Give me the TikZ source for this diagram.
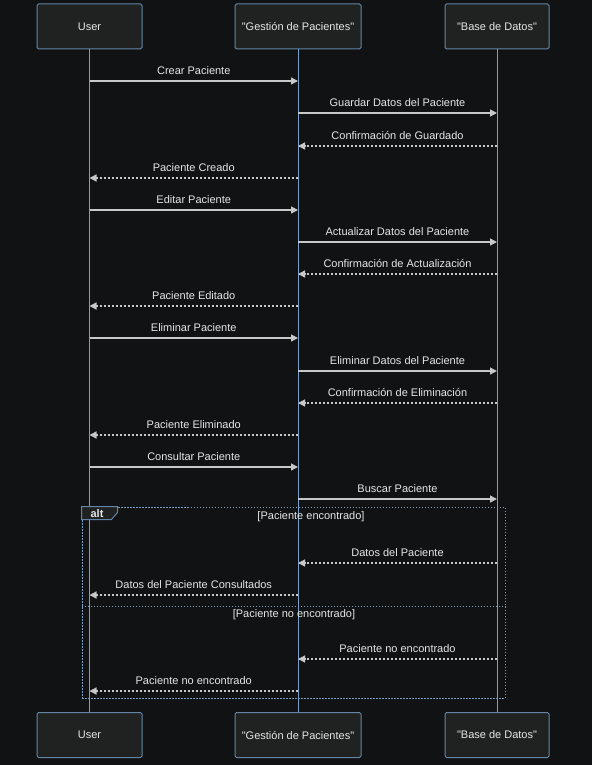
\documentclass[tikz,border=0pt]{standalone}
\usepackage{fontspec}
\setmainfont{Liberation Sans}[Ligatures=TeXOff]
\usetikzlibrary{arrows.meta}
\usetikzlibrary{positioning}
\definecolor{bgc}{HTML}{111214}
\definecolor{boxfill}{HTML}{202222}
\definecolor{boxline}{HTML}{6386A8}
\definecolor{lifec}{HTML}{7BA0C8}
\definecolor{msgc}{HTML}{C8C8C8}
\definecolor{txtc}{HTML}{E6E6E6}
\definecolor{framec}{HTML}{7D9EC2}
\tikzset{actor node/.style={rectangle,draw=boxline,fill=boxfill,rounded corners=1.5pt,line width=1pt,minimum height=45pt,text=txtc,font=\fontsize{11}{13}\selectfont},
lifeline/.style={draw=lifec,line width=1pt},
call/.style={draw=msgc,line width=1.3pt,-{Triangle[length=7pt,width=7pt]}},
reply/.style={call,dash pattern=on 2pt off 2pt},
msglabel/.style={above=5pt,inner sep=1pt,text=txtc,font=\fontsize{11}{13}\selectfont},
altframe/.style={draw=framec,line width=1pt,dash pattern=on 1.5pt off 1.5pt,inner sep=0pt}}

\begin{document}
\begin{tikzpicture}[x=1pt,y=-1pt]
    \fill[bgc] (0,0) rectangle (592,765);
    \useasboundingbox (0,0) rectangle (592,765);

    \node[actor node,minimum width=105pt] (user) at (89.5,26.5) {User};
    \node[actor node,minimum width=126pt] (gp) at (298,26.5) {"Gestión de Pacientes"};
    \node[actor node,minimum width=104pt] (bd) at (497,26.5) {"Base de Datos"};
    \node[actor node,minimum width=105pt] (userB) at (89.5,735) {User};
    \node[actor node,minimum width=126pt] (gpB) at (298,735) {"Gestión de Pacientes"};
    \node[actor node,minimum width=104pt] (bdB) at (497,735) {"Base de Datos"};

    \path[lifeline] (user) edge (userB) (gp) edge (gpB) (bd) edge (bdB);

    \foreach \y/\from/\to/\txt in {81/user/gp/Crear Paciente, 113/gp/bd/Guardar Datos del Paciente,
        210/user/gp/Editar Paciente, 242/gp/bd/Actualizar Datos del Paciente,
        338/user/gp/Eliminar Paciente, 371/gp/bd/Eliminar Datos del Paciente,
        467/user/gp/Consultar Paciente, 499/gp/bd/Buscar Paciente}
        \draw[call] (\from |- 0,\y) -- node[msglabel] {\txt} (\to |- 0,\y);

    \foreach \y/\from/\to/\txt in {146/bd/gp/Confirmación de Guardado, 178/gp/user/Paciente Creado,
        274/bd/gp/Confirmación de Actualización, 306/gp/user/Paciente Editado,
        403/bd/gp/Confirmación de Eliminación, 435/gp/user/Paciente Eliminado,
        563/bd/gp/Datos del Paciente, 595/gp/user/Datos del Paciente Consultados,
        659/bd/gp/Paciente no encontrado, 691/gp/user/Paciente no encontrado}
        \draw[reply] (\from |- 0,\y) -- node[msglabel] {\txt} (\to |- 0,\y);

    % alt block
    \node[altframe,minimum width=423pt,minimum height=191pt] (alt) at (293.5,602.5) {};
    \draw[altframe] (alt.west |- 0,606) -- (alt.east |- 0,606);
    \draw[draw=boxline,fill=boxfill,line width=1pt] (alt.north west) -- ++(36,0) -- ++(0,6) -- ++(-6,7) -- ++(-30,0) -- cycle;
    \node[text=txtc,font=\fontsize{11}{13}\selectfont\bfseries,inner sep=0pt] (altlabel) at (97,513.5) {alt};
    \node[text=txtc,font=\fontsize{11}{13}\selectfont,inner sep=0pt] (cond1) at (311,517) {[Paciente encontrado]};
    \node[text=txtc,font=\fontsize{11}{13}\selectfont,inner sep=0pt] (cond2) at (294,615) {[Paciente no encontrado]};
\end{tikzpicture}
\end{document}
